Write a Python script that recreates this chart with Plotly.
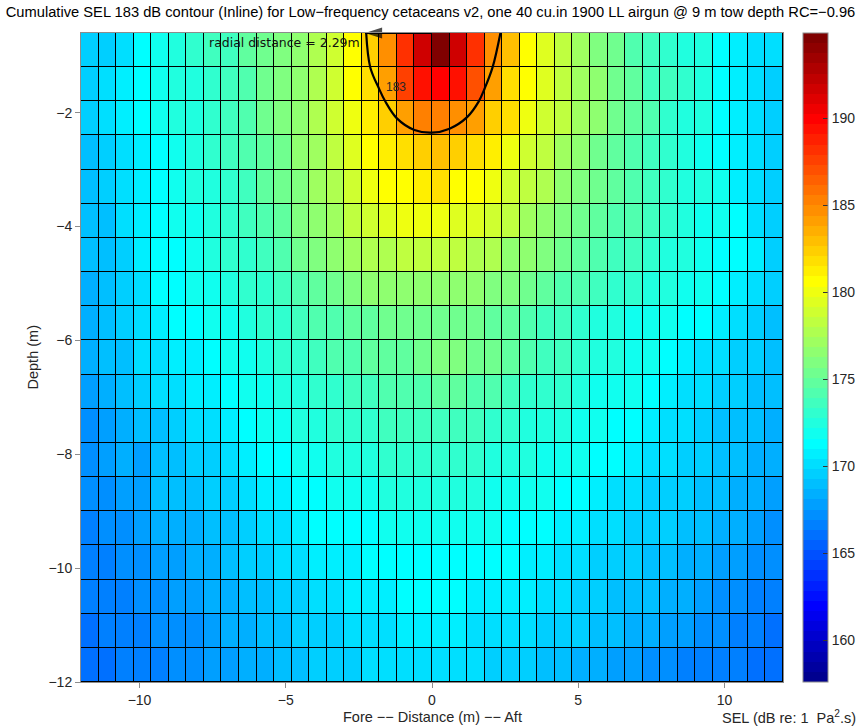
import numpy as np
import plotly.graph_objects as go

# ---------------------------------------------------------------------------
# Cumulative SEL (dB re 1 uPa^2.s), one row per receiver depth (m),
# one value per along-track grid node from -12 m to 11.4 m (0.6 m step).
# ---------------------------------------------------------------------------
row_0_6m = [169.3, 169.7, 170.2, 171.1, 172.0, 172.3, 172.8, 173.4, 173.9, 174.6,
            175.3, 176.1, 176.8, 177.7, 179.0, 180.6, 182.4, 184.8, 188.2, 191.8,
            194.6, 191.8, 188.0, 184.8, 182.8, 180.6, 179.3, 178.4, 177.0, 176.2,
            175.4, 174.5, 173.8, 173.2, 172.7, 172.2, 171.5, 171.0, 170.4, 169.9]
row_1_2m = [169.5, 169.9, 170.5, 171.1, 171.8, 172.2, 172.5, 173.2, 173.7, 174.4,
            175.2, 175.9, 176.8, 177.7, 178.8, 180.6, 181.8, 184.3, 187.5, 189.5,
            190.0, 189.2, 186.8, 184.0, 181.8, 180.4, 179.2, 178.3, 177.2, 176.4,
            175.6, 174.7, 173.9, 173.4, 172.8, 172.2, 171.5, 170.9, 170.3, 169.5]
row_1_8m = [169.5, 169.9, 170.6, 171.1, 171.8, 172.2, 172.5, 173.2, 173.7, 174.4,
            175.2, 175.9, 176.8, 177.7, 178.6, 179.9, 181.4, 182.3, 184.4, 185.1,
            185.2, 184.6, 184.2, 182.4, 181.6, 180.2, 179.0, 178.2, 177.3, 176.4,
            175.6, 174.8, 174.1, 173.2, 172.7, 172.2, 171.5, 170.9, 170.3, 169.5]
row_2_4m = [169.0, 169.6, 170.2, 170.9, 171.5, 171.9, 172.4, 172.9, 173.5, 174.1,
            174.8, 175.6, 176.4, 177.3, 178.3, 179.4, 180.4, 181.2, 181.6, 182.6,
            182.8, 182.6, 181.6, 181.0, 179.9, 179.0, 178.0, 177.1, 176.3, 175.6,
            174.9, 174.2, 173.6, 173.2, 172.6, 172.0, 171.5, 170.9, 170.3, 169.5]
row_3_0m = [169.0, 169.4, 170.0, 170.9, 171.4, 171.8, 172.3, 172.7, 173.3, 173.9,
            174.6, 175.3, 176.1, 176.9, 177.9, 178.8, 179.8, 180.6, 180.8, 181.1,
            181.6, 180.9, 180.6, 179.8, 179.0, 178.3, 177.5, 176.8, 176.1, 175.3,
            174.8, 174.2, 173.7, 173.2, 172.6, 172.2, 171.6, 171.0, 170.2, 169.4]
row_3_6m = [168.8, 169.2, 169.9, 170.7, 171.3, 171.6, 172.1, 172.5, 173.1, 173.7,
            174.2, 175.0, 175.7, 176.4, 177.3, 178.1, 178.8, 179.4, 179.8, 179.9,
            179.8, 179.6, 179.2, 178.7, 178.1, 177.3, 176.8, 176.1, 175.6, 175.0,
            174.4, 174.1, 173.5, 173.1, 172.5, 172.1, 171.6, 171.1, 170.4, 169.6]
row_4_2m = [168.8, 169.0, 169.6, 170.6, 171.1, 171.4, 171.9, 172.3, 172.9, 173.3,
            173.9, 174.4, 175.2, 175.7, 176.4, 177.0, 177.5, 177.9, 178.3, 178.4,
            178.4, 178.3, 177.9, 177.5, 176.8, 176.4, 175.9, 175.3, 175.0, 174.4,
            173.9, 173.5, 173.1, 172.7, 172.3, 171.9, 171.4, 171.1, 170.6, 169.8]
row_4_8m = [168.5, 169.0, 169.6, 170.4, 171.1, 171.3, 171.6, 172.1, 172.5, 172.9,
            173.3, 173.9, 174.4, 175.0, 175.6, 175.9, 176.3, 176.6, 176.8, 176.8,
            176.8, 176.6, 176.4, 176.1, 175.7, 175.3, 175.0, 174.4, 174.1, 173.7,
            173.3, 172.9, 172.5, 172.3, 171.9, 171.6, 171.3, 170.9, 170.2, 169.4]
row_5_4m = [168.3, 168.8, 169.4, 170.2, 170.9, 171.1, 171.4, 171.6, 171.9, 172.5,
            172.9, 173.3, 173.7, 174.1, 174.4, 174.8, 175.0, 175.2, 175.3, 175.3,
            175.3, 175.3, 175.2, 174.8, 174.6, 174.2, 173.9, 173.5, 173.1, 172.7,
            172.5, 172.1, 171.8, 171.6, 171.3, 171.1, 170.7, 170.2, 169.6, 169.0]
row_6_0m = [168.5, 169.0, 169.2, 169.9, 170.2, 170.6, 170.7, 171.3, 171.9, 172.1,
            172.7, 173.1, 173.1, 173.7, 174.1, 174.2, 175.0, 175.0, 175.0, 175.3,
            175.8, 175.7, 175.3, 175.3, 175.0, 174.2, 173.9, 173.5, 173.1, 172.7,
            172.3, 171.9, 171.8, 171.3, 170.7, 170.4, 170.2, 169.8, 169.6, 169.2]
row_6_6m = [168.0, 168.5, 169.0, 169.4, 169.9, 170.2, 170.6, 170.9, 171.3, 171.8,
            172.1, 172.5, 172.5, 172.9, 173.3, 173.5, 173.9, 174.1, 174.4, 174.4,
            174.6, 174.6, 174.2, 174.2, 173.7, 173.3, 173.1, 172.9, 172.5, 172.1,
            171.8, 171.6, 171.3, 170.7, 170.4, 170.0, 169.8, 169.4, 169.2, 168.8]
row_7_2m = [167.5, 168.0, 168.5, 169.0, 169.2, 169.6, 169.9, 170.2, 170.7, 171.3,
            171.6, 171.9, 172.3, 172.5, 172.9, 173.1, 173.3, 173.7, 173.7, 173.9,
            173.9, 173.7, 173.5, 173.3, 173.1, 172.7, 172.5, 172.3, 171.9, 171.8,
            171.4, 171.3, 170.7, 170.2, 170.0, 169.6, 169.2, 169.0, 168.8, 168.5]
row_7_8m = [167.3, 167.8, 168.3, 168.0, 169.0, 169.2, 169.4, 169.6, 170.2, 170.7,
            171.3, 171.3, 171.8, 171.9, 172.3, 172.5, 172.7, 172.9, 173.1, 173.1,
            173.3, 173.1, 172.9, 172.7, 172.5, 172.3, 172.1, 171.8, 171.6, 171.3,
            171.3, 170.7, 170.4, 170.0, 169.6, 169.4, 169.2, 168.8, 168.5, 168.3]
row_8_4m = [167.3, 167.5, 168.0, 168.0, 168.8, 169.0, 169.2, 169.4, 169.6, 170.0,
            170.6, 170.9, 171.3, 171.3, 171.6, 171.8, 171.9, 172.3, 172.3, 172.5,
            172.7, 172.5, 172.3, 172.1, 171.9, 171.8, 171.6, 171.3, 171.1, 170.7,
            170.4, 170.0, 169.8, 169.6, 169.4, 169.2, 169.0, 168.5, 168.3, 168.0]
row_9_0m = [166.8, 167.3, 167.5, 167.8, 168.3, 168.5, 168.3, 169.0, 169.2, 169.6,
            170.0, 170.4, 170.7, 171.1, 171.3, 171.3, 171.4, 171.6, 171.8, 171.9,
            172.1, 171.9, 171.8, 171.6, 171.3, 171.3, 171.1, 170.9, 170.6, 170.4,
            170.0, 169.8, 169.6, 169.4, 169.0, 168.8, 168.5, 168.3, 167.8, 167.5]
row_9_6m = [166.6, 166.8, 167.3, 167.5, 168.0, 168.0, 168.3, 168.5, 169.0, 169.4,
            169.6, 170.0, 170.2, 170.6, 170.7, 170.9, 171.1, 171.3, 171.3, 171.3,
            171.4, 171.3, 171.3, 171.3, 171.1, 170.7, 170.6, 170.4, 170.2, 169.8,
            169.6, 169.4, 169.2, 169.0, 168.5, 168.3, 168.0, 167.8, 167.5, 167.0]
row_10_2m = [166.6, 166.8, 166.6, 167.3, 167.5, 167.8, 167.8, 168.3, 168.5, 168.8,
             169.2, 169.4, 169.6, 170.0, 170.4, 170.6, 170.7, 170.9, 171.1, 171.1,
             171.1, 171.1, 170.9, 170.9, 170.7, 170.6, 170.2, 170.0, 169.8, 169.6,
             169.2, 169.0, 168.8, 168.5, 168.3, 168.0, 167.5, 167.3, 166.8, 166.6]
row_10_8m = [166.1, 166.6, 166.8, 166.6, 167.3, 167.5, 167.5, 167.8, 168.3, 168.5,
             168.8, 169.0, 169.4, 169.6, 169.8, 170.2, 170.4, 170.4, 170.6, 170.6,
             170.6, 170.6, 170.4, 170.4, 170.2, 170.0, 169.8, 169.6, 169.4, 169.2,
             168.8, 168.5, 168.3, 168.0, 167.8, 167.3, 167.0, 166.8, 166.6, 166.3]
row_11_4m = [166.3, 166.1, 166.6, 166.8, 166.8, 167.3, 167.3, 167.8, 168.0, 168.3,
             168.5, 168.8, 169.2, 169.4, 169.6, 169.8, 170.0, 170.2, 170.2, 170.4,
             170.2, 170.2, 170.0, 169.8, 169.6, 169.4, 169.2, 169.0, 168.5, 168.3,
             168.0, 167.8, 167.5, 167.3, 166.8, 166.6, 166.8, 166.6, 166.3, 166.1]

# rows ordered from the surface downwards
sel_rows = [row_0_6m, row_1_2m, row_1_8m, row_2_4m, row_3_0m, row_3_6m, row_4_2m,
            row_4_8m, row_5_4m, row_6_0m, row_6_6m, row_7_2m, row_7_8m, row_8_4m,
            row_9_0m, row_9_6m, row_10_2m, row_10_8m, row_11_4m]

grid_step = 0.6                        # m
x_nodes = np.round(-12 + grid_step * np.arange(40), 2)      # along-track, m
depth_nodes = np.round(-grid_step * np.arange(1, 20), 2)    # -0.6 ... -11.4 m

contour_level = 183                    # dB threshold drawn as a contour
radial_distance = 2.29                 # m, horizontal reach of the contour
sel_range = (157.6, 194.9)             # colour limits

title_text = ("Cumulative SEL 183 dB contour (Inline) for Low\u2212frequency cetaceans v2, "
              "one 40 cu.in 1900 LL airgun @ 9 m tow depth RC=\u22120.96")


def jet(m=64):
    """MATLAB-style jet colormap with m entries."""
    n = int(np.ceil(m / 4))
    u = np.concatenate([np.arange(1, n + 1) / n, np.ones(n - 1), np.arange(n, 0, -1) / n])
    g = int(np.ceil(n / 2)) - (m % 4 == 1) + np.arange(1, len(u) + 1)
    r = g + n
    b = g - n
    cmap = np.zeros((m, 3))
    for k in range(len(u)):
        if 1 <= r[k] <= m:
            cmap[r[k] - 1, 0] = u[k]
        if 1 <= g[k] <= m:
            cmap[g[k] - 1, 1] = u[k]
        if 1 <= b[k] <= m:
            cmap[b[k] - 1, 2] = u[k]
    return cmap


def stepped_scale(cmap):
    m = len(cmap)
    scale = []
    for k, (r, g, b) in enumerate(cmap):
        col = f"rgb({round(r * 255)},{round(g * 255)},{round(b * 255)})"
        scale.append([k / m, col])
        scale.append([(k + 1) / m, col])
    return scale


jet_scale = stepped_scale(jet(64))

# grid arrays for drawing (bottom row first, y ascending)
z_up = np.array(sel_rows[::-1])
y_up = depth_nodes[::-1]
x_edges = np.append(x_nodes, x_nodes[-1] + grid_step)
y_edges = np.append(y_up - grid_step, y_up[-1])
top = float(depth_nodes[0])

base_font = "Liberation Sans, Arial, sans-serif"
tick_font = dict(family=base_font, size=14, color="#262626")
label_font = dict(family=base_font, size=14.5, color="#262626")

fig = go.Figure()

# faceted colour cells (each cell painted with its upper-left node value)
fig.add_trace(go.Heatmap(
    z=z_up, x=x_edges, y=y_edges,
    colorscale=jet_scale, zmin=sel_range[0], zmax=sel_range[1],
    xgap=1, ygap=1, hoverinfo="skip",
    colorbar=dict(
        thickness=25, thicknessmode="pixels",
        len=1, lenmode="fraction", y=0.5, yanchor="middle", ypad=0,
        x=1.0285, xanchor="left", xpad=0,
        outlinewidth=1, outlinecolor="#8c8c8c",
        tickvals=[160, 165, 170, 175, 180, 185, 190],
        ticks="inside", ticklen=5, tickcolor="#333333",
        tickfont=tick_font,
    ),
))

# threshold contour computed on the node grid
fig.add_trace(go.Contour(
    z=z_up, x=x_nodes, y=y_up,
    contours=dict(start=contour_level, end=contour_level, size=1, coloring="none"),
    line=dict(color="black", width=2.2),
    showscale=False, hoverinfo="skip",
))

# radial-distance arrow along the top edge, from x = 0 out to the contour
fig.add_trace(go.Scatter(
    x=[0, -radial_distance], y=[top, top],
    mode="lines+markers", cliponaxis=False, hoverinfo="skip",
    line=dict(color="black", width=2),
    marker=dict(symbol=["circle", "arrow"], size=[0, 18], angleref="previous",
                color="black", line=dict(width=0)),
))

annotations = [
    dict(x=-radial_distance, y=-0.77, xref="x", yref="y",
         xanchor="right", yanchor="middle", xshift=-3, showarrow=False,
         text=f"radial distance = {radial_distance:.2f}m",
         font=dict(family="DejaVu Sans, sans-serif", size=12.5, color="#111111")),
    dict(x=-1.24, y=-1.54, xref="x", yref="y", showarrow=False,
         text=f"{contour_level}",
         font=dict(family=base_font, size=12, color="#262626")),
    dict(x=0.5, y=0, xref="paper", yref="paper", yanchor="middle", yshift=-35,
         showarrow=False, text="Fore \u2212\u2212 Distance (m) \u2212\u2212 Aft",
         font=label_font),
    dict(x=0, y=0.5, xref="paper", yref="paper", xanchor="center", yanchor="middle",
         xshift=-49, textangle=-90, showarrow=False, text="Depth (m)", font=label_font),
    dict(x=1.1068, y=0, xref="paper", yref="paper", xanchor="right", yanchor="middle",
         yshift=-35, showarrow=False,
         text="SEL (dB re: 1  Pa<sup>2</sup>.s)", font=label_font),
]

fig.update_layout(
    width=861, height=727,
    margin=dict(l=81, r=78, t=33, b=45, autoexpand=False),
    paper_bgcolor="white", plot_bgcolor="black",
    title=dict(text=title_text, x=0.5, xref="container", xanchor="center",
               y=1 - 12 / 727, yref="container", yanchor="middle",
               font=dict(family=base_font, size=14.7, color="black")),
    xaxis=dict(range=[-12, 12], tickvals=[-10, -5, 0, 5, 10],
               ticks="outside", ticklen=5, tickcolor="#8c8c8c",
               showline=True, linecolor="#8c8c8c", linewidth=1, mirror=True,
               showgrid=False, zeroline=False, tickfont=tick_font),
    yaxis=dict(range=[-12, top], tickvals=[-12, -10, -8, -6, -4, -2],
               ticks="outside", ticklen=5, tickcolor="#8c8c8c",
               showline=True, linecolor="#8c8c8c", linewidth=1, mirror=True,
               showgrid=False, zeroline=False, tickfont=tick_font),
    annotations=annotations,
    showlegend=False,
)

fig.write_html("out.html")
